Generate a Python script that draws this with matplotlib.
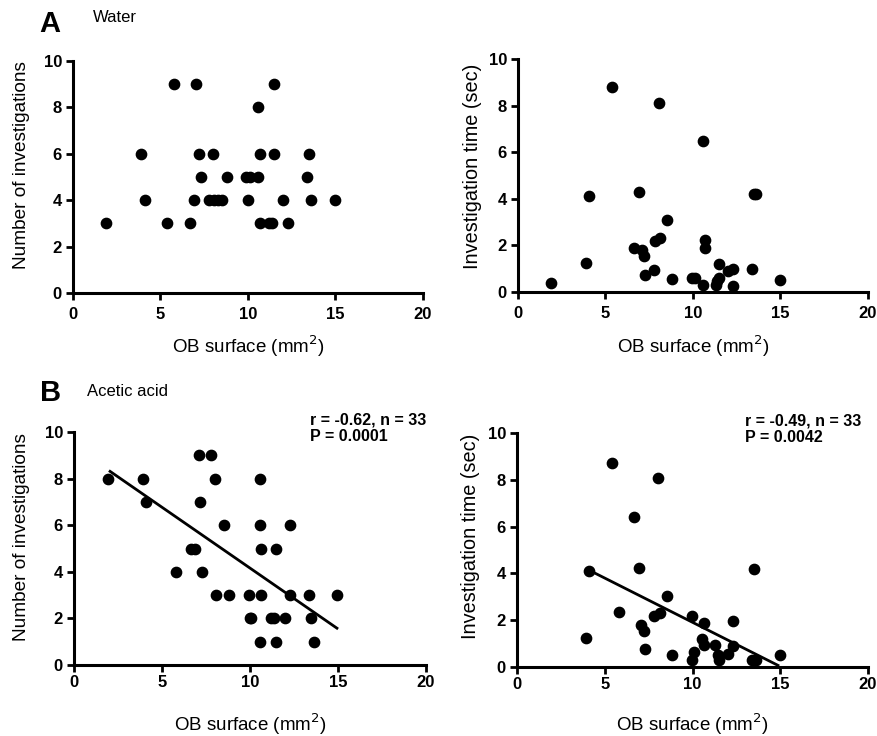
import matplotlib
matplotlib.use("Agg")
import matplotlib.pyplot as plt
import numpy as np

plt.rcParams['font.family'] = ['Liberation Sans', 'DejaVu Sans']

# ---- Data ----
# A, Water: number of investigations
wa_n_x = [1.9, 3.9, 4.1, 5.4, 5.8, 6.7, 6.9, 7.05, 7.2, 7.3, 7.8, 8.05, 8.3, 8.5, 8.0, 8.8,
          9.9, 10.1, 10.0, 10.6, 10.6, 10.7, 10.7, 11.2, 11.4, 11.5, 11.5, 12.0, 12.3,
          13.4, 13.5, 13.6, 15.0]
wa_n_y = [3, 6, 4, 3, 9, 3, 4, 9, 6, 5, 4, 4, 4, 4, 6, 5,
          5, 5, 4, 8, 5, 6, 3, 3, 3, 9, 6, 4, 3,
          5, 6, 4, 4]

# A, Water: investigation time (sec)
wa_t_x = [1.87, 3.9, 4.06, 5.37, 6.65, 6.9, 7.09, 7.18, 7.28, 7.77, 7.81, 8.11, 8.04, 8.51,
          8.78, 9.96, 10.11, 10.57, 10.57, 10.7, 10.7, 11.3, 11.39, 11.49, 11.47, 12.0,
          12.3, 12.3, 13.49, 13.62, 13.39, 15.0]
wa_t_y = [0.39, 1.25, 4.13, 8.78, 1.88, 4.28, 1.82, 1.54, 0.75, 0.96, 2.18, 2.32, 8.13, 3.07,
          0.55, 0.6, 0.6, 6.46, 0.29, 2.22, 1.87, 0.29, 0.46, 0.6, 1.2, 0.9,
          0.98, 0.24, 4.19, 4.19, 0.98, 0.53]

# B, Acetic acid: number of investigations
aa_n_x = [1.91, 3.94, 4.1, 5.8, 6.65, 6.86, 7.13, 7.18, 7.3, 7.79, 8.02, 8.06, 8.5, 8.8,
          9.97, 10.0, 10.05, 10.58, 10.58, 10.65, 10.6, 10.58, 11.2, 11.36, 11.47, 11.49,
          11.98, 12.25, 12.25, 13.35, 13.48, 13.61, 14.94]
aa_n_y = [8, 8, 7, 4, 5, 5, 9, 7, 4, 9, 8, 3, 6, 3,
          3, 2, 2, 8, 6, 5, 3, 1, 2, 2, 5, 1,
          2, 6, 3, 3, 2, 1, 3]
aa_n_fit_x = [2.05, 14.94]
aa_n_fit_y = [8.31, 1.58]

# B, Acetic acid: investigation time (sec)
aa_t_x = [3.91, 4.08, 5.41, 5.79, 6.69, 6.93, 7.08, 7.22, 7.29, 7.79, 8.13, 8.05, 8.53, 8.81,
          9.95, 10.09, 9.95, 10.64, 10.56, 10.67, 11.3, 11.45, 11.5, 12.04, 12.31, 12.31,
          13.5, 13.39, 13.64, 15.0]
aa_t_y = [1.24, 4.1, 8.71, 2.36, 6.43, 4.24, 1.81, 1.54, 0.76, 2.17, 2.31, 8.07, 3.04, 0.53,
          2.19, 0.64, 0.31, 1.89, 1.19, 0.96, 0.96, 0.53, 0.31, 0.57, 1.97, 0.9,
          4.17, 0.31, 0.31, 0.53]
aa_t_fit_x = [4.18, 14.87]
aa_t_fit_y = [4.11, 0.07]

x_ticks = [0, 5, 10, 15, 20]
y_ticks = [0, 2, 4, 6, 8, 10]

W, H = 878, 736
fig = plt.figure(figsize=(W / 100, H / 100), dpi=100)


def rect(x0, x1, ytop, ybot):
    return [x0 / W, 1 - ybot / H, (x1 - x0) / W, (ybot - ytop) / H]


def style(ax, ylabel, ylab_fs, ylab_xy, xlab_y, xpad):
    ax.set_xlim(0, 20)
    ax.set_ylim(0, 10)
    ax.set_xticks(x_ticks)
    ax.set_yticks(y_ticks)
    for s in ['top', 'right']:
        ax.spines[s].set_visible(False)
    for s in ['left', 'bottom']:
        ax.spines[s].set_linewidth(2.2)
    ax.tick_params(width=2.0, length=5, labelsize=12, direction='out')
    ax.tick_params(axis='x', pad=xpad)
    ax.tick_params(axis='y', pad=3)
    for lab in ax.get_xticklabels() + ax.get_yticklabels():
        lab.set_fontweight('bold')
    yl = ax.set_ylabel(ylabel, fontsize=ylab_fs)
    yl.set_va('center')
    ax.yaxis.set_label_coords(*ylab_xy)
    xl = ax.set_xlabel('OB surface (mm$^{2}$)', fontsize=13.5)
    xl.set_va('center')
    ax.xaxis.set_label_coords(0.5, xlab_y)
    ax.patch.set_alpha(0)


ms = 55
ax1 = fig.add_axes(rect(73, 423, 61, 293))
ax1.scatter(wa_n_x, wa_n_y, s=ms, color='black', zorder=3, clip_on=False)
style(ax1, 'Number of investigations', 13.7, (-0.146, 0.55), -0.228, 5)

ax2 = fig.add_axes(rect(518, 868, 59, 292))
ax2.scatter(wa_t_x, wa_t_y, s=ms, color='black', zorder=3, clip_on=False)
style(ax2, 'Investigation time (sec)', 14.3, (-0.131, 0.54), -0.232, 5)

ax3 = fig.add_axes(rect(74, 426, 432, 665))
ax3.scatter(aa_n_x, aa_n_y, s=ms, color='black', zorder=3, clip_on=False)
ax3.plot(aa_n_fit_x, aa_n_fit_y, color='black', lw=2.0, zorder=2)
style(ax3, 'Number of investigations', 13.7, (-0.148, 0.55), -0.253, 2)
ax3.text(0.67, 1.052, 'r = -0.62, n = 33', transform=ax3.transAxes,
         fontsize=11.5, fontweight='bold', va='center', ha='left')
ax3.text(0.67, 0.98, 'P = 0.0001', transform=ax3.transAxes,
         fontsize=11.5, fontweight='bold', va='center', ha='left')

ax4 = fig.add_axes(rect(517, 868, 433, 667))
ax4.scatter(aa_t_x, aa_t_y, s=ms, color='black', zorder=3, clip_on=False)
ax4.plot(aa_t_fit_x, aa_t_fit_y, color='black', lw=2.0, zorder=2)
style(ax4, 'Investigation time (sec)', 14.3, (-0.133, 0.56), -0.244, 2)
ax4.text(0.65, 1.052, 'r = -0.49, n = 33', transform=ax4.transAxes,
         fontsize=11.5, fontweight='bold', va='center', ha='left')
ax4.text(0.65, 0.98, 'P = 0.0042', transform=ax4.transAxes,
         fontsize=11.5, fontweight='bold', va='center', ha='left')

fig.text(39 / W, 1 - 24 / H, 'A', fontsize=21, fontweight='bold', va='center', ha='left')
fig.text(93 / W, 1 - 18 / H, 'Water', fontsize=12, va='center', ha='left')
fig.text(40 / W, 1 - 393 / H, 'B', fontsize=21, fontweight='bold', va='center', ha='left')
fig.text(87 / W, 1 - 391 / H, 'Acetic acid', fontsize=12, va='center', ha='left')

fig.savefig('out.png', dpi=100)
